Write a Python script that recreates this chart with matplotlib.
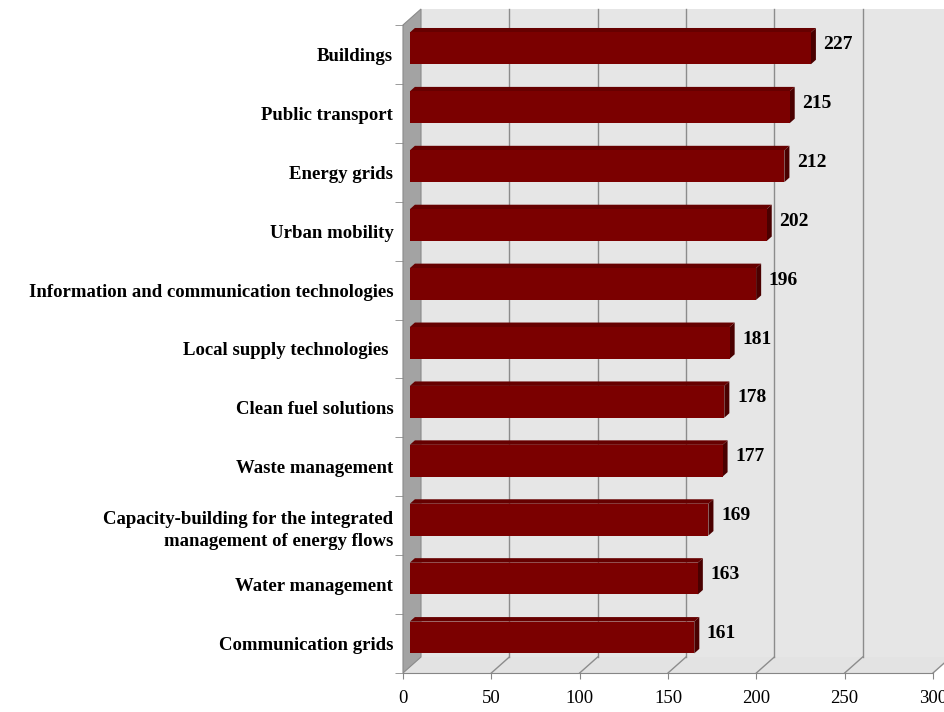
import matplotlib
matplotlib.use("Agg")
import matplotlib.pyplot as plt
import matplotlib.transforms as mtransforms
from matplotlib.patches import Polygon
from matplotlib.ticker import FixedLocator

categories = [
    "Buildings",
    "Public transport",
    "Energy grids",
    "Urban mobility",
    "Information and communication technologies",
    "Local supply technologies ",
    "Clean fuel solutions",
    "Waste management",
    "Capacity-building for the integrated\nmanagement of energy flows",
    "Water management",
    "Communication grids",
]
values = [227, 215, 212, 202, 196, 181, 178, 177, 169, 163, 161]
x_ticks = [0, 50, 100, 150, 200, 250, 300]

SERIF = "Liberation Serif"
W, H = 944, 712
fig = plt.figure(figsize=(W / 100, H / 100), dpi=100)
fig.patch.set_facecolor("white")

# front plane of the 3-D box
ax = fig.add_axes([403 / W, 1 - 673 / H, 530 / W, 648 / H])
n = len(categories)
xmax = x_ticks[-1]
y_top, y_bot = -0.5, n - 0.5
ax.set_xlim(0, xmax)
ax.set_ylim(y_bot, y_top)
ax.patch.set_visible(False)

DX, DY = 18.0, 16.0  # depth of the box in pixels (oblique projection)


def pt(v, c, f):
    """Display position of (value, category) at depth fraction f."""
    x, y = ax.transData.transform((v, c))
    return (x + DX * f, y + DY * f)


def depth(f):
    return mtransforms.offset_copy(ax.transData, fig=fig, x=DX * f, y=DY * f, units="dots")


ident = mtransforms.IdentityTransform()


def poly(points, **kw):
    p = Polygon(points, closed=True, transform=ident, clip_on=False, **kw)
    ax.add_patch(p)
    return p


# walls and floor
wall_c = "#e6e6e6"
poly([pt(0, y_top, 1), pt(xmax, y_top, 1), pt(xmax, y_bot, 1), pt(0, y_bot, 1)],
     facecolor=wall_c, edgecolor="none", zorder=0)
poly([pt(0, y_bot, 0), pt(xmax, y_bot, 0), pt(xmax, y_bot, 1), pt(0, y_bot, 1)],
     facecolor="#e3e3e3", edgecolor="none", zorder=0)
poly([pt(0, y_top, 0), pt(0, y_top, 1), pt(0, y_bot, 1), pt(0, y_bot, 0)],
     facecolor="#a3a3a3", edgecolor="#8a8a8a", lw=0.8, zorder=0.2)

# gridlines: vertical on back wall, diagonal across the floor
grid_c = "#8c8c8c"
for v in x_ticks[1:]:
    ax.plot([v, v], [y_top, y_bot], transform=depth(1), color=grid_c, lw=1,
            clip_on=False, zorder=0.5)
    (x0, y0), (x1, y1) = pt(v, y_bot, 0), pt(v, y_bot, 1)
    ax.plot([x0, x1], [y0, y1], transform=ident, color=grid_c, lw=1,
            clip_on=False, zorder=0.5)

# 3-D bars
bar_h = 0.54
f_front, f_back = 0.38, 0.66
ypos = list(range(n))
ax.barh(ypos, values, height=bar_h, left=0, color="#7b0000", edgecolor="none",
        transform=depth(f_front), clip_on=False, zorder=3)
for i, v in enumerate(values):
    top = i - bar_h / 2
    bot = i + bar_h / 2
    poly([pt(0, top, f_front), pt(v, top, f_front), pt(v, top, f_back), pt(0, top, f_back)],
         facecolor="#660000", edgecolor="none", zorder=2.9)
    poly([pt(v, top, f_front), pt(v, bot, f_front), pt(v, bot, f_back), pt(v, top, f_back)],
         facecolor="#4a0000", edgecolor="none", zorder=2.9)
    ax.annotate(str(v), xy=(v, i), xycoords=depth(0.62), xytext=(6, 0),
                textcoords="offset points", ha="left", va="center",
                fontsize=14, fontweight="bold", family=SERIF, color="black",
                zorder=4, annotation_clip=False)

# axes, ticks and labels
for s in ("top", "right", "left"):
    ax.spines[s].set_visible(False)
ax.spines["bottom"].set_color("#868686")

ax.set_xticks(x_ticks)
ax.set_xticklabels([str(t) for t in x_ticks], family=SERIF, fontsize=13.5)
ax.tick_params(axis="x", direction="out", length=4, color="#868686", pad=8)

ax.set_yticks(ypos)
ax.set_yticklabels(categories, family=SERIF, fontsize=13.5, fontweight="bold",
                   linespacing=1.4)
ax.yaxis.set_minor_locator(FixedLocator([k - 0.5 for k in range(n + 1)]))
ax.tick_params(axis="y", which="major", length=0, pad=7)
ax.tick_params(axis="y", which="minor", direction="out", length=6, color="#8a8a8a")

fig.savefig("out.png", dpi=100, facecolor="white")
